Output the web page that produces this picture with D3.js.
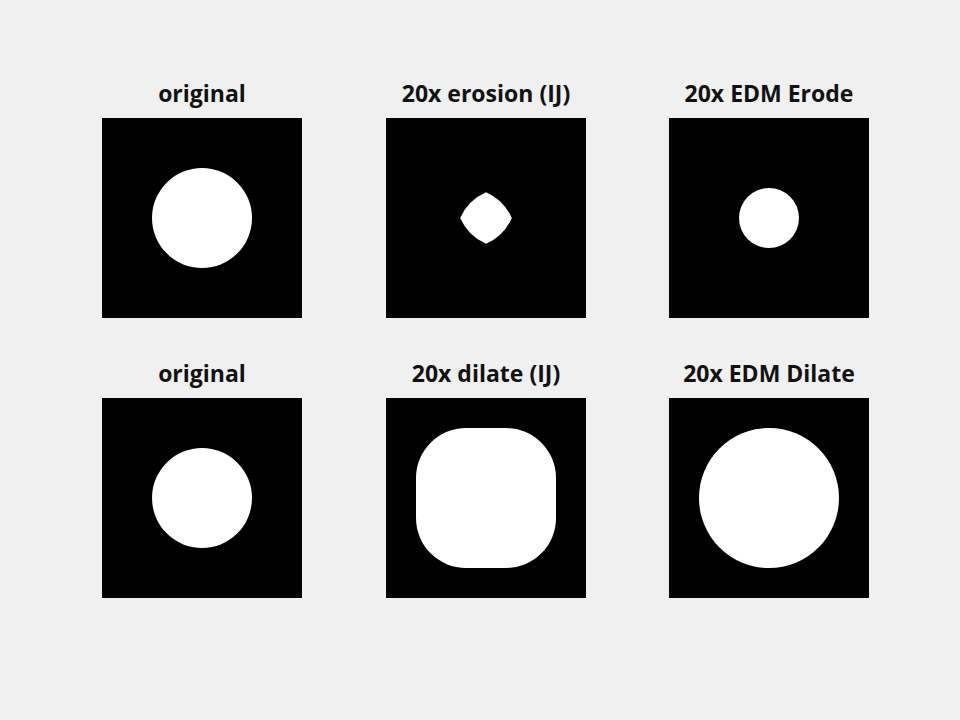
<!DOCTYPE html>
<html>
<head>
<meta charset="utf-8">
<script src="https://cdn.jsdelivr.net/npm/d3@7"></script>
<style>
html,body{margin:0;padding:0;background:#f0f0f0;}
svg{display:block;}
</style>
</head>
<body>
<svg id="fig" width="960" height="720"></svg>
<script>
// ---- data ----
const titles = ["original", "20x erosion (IJ)", "20x EDM Erode", "original", "20x dilate (IJ)", "20x EDM Dilate"];
const operations = ["none", "squareErode", "none", "none", "squareDilate", "none"];
const resultRadius = [50, 50, 30, 50, 50, 70];   // disk radius in image pixels
const squareSteps = [0, 20, 0, 0, 20, 0];        // 3x3 iterations (IJ)
const imageSize = 200;                           // image width/height in pixels

// ---- layout ----
const W = 960, H = 720;
const colX = [102, 386, 669];
const rowY = [118, 398];
const svg = d3.select("#fig");
svg.append("rect").attr("width", W).attr("height", H).attr("fill", "#f0f0f0");

titles.forEach((t, i) => {
  const col = i % 3, row = Math.floor(i / 3);
  const x = d3.scaleLinear().domain([0, imageSize]).range([colX[col], colX[col] + 200]);
  const y = d3.scaleLinear().domain([0, imageSize]).range([rowY[row], rowY[row] + 200]);
  const g = svg.append("g");
  g.append("rect")
    .attr("x", x(0)).attr("y", y(0))
    .attr("width", x(imageSize) - x(0)).attr("height", y(imageSize) - y(0))
    .attr("fill", "#000");
  const cx = imageSize / 2, cy = imageSize / 2;
  const R = resultRadius[i], d = squareSteps[i];
  const sx = (x(1) - x(0));
  if (operations[i] === "none") {
    g.append("circle").attr("cx", x(cx)).attr("cy", y(cy)).attr("r", R * sx).attr("fill", "#fff");
  } else if (operations[i] === "squareDilate") {
    const half = R + d;
    g.append("rect")
      .attr("x", x(cx - half)).attr("y", y(cy - half))
      .attr("width", x(cx + half) - x(cx - half)).attr("height", y(cy + half) - y(cy - half))
      .attr("rx", R * sx).attr("ry", R * sx)
      .attr("fill", "#fff");
  } else if (operations[i] === "squareErode") {
    // intersection of four disks (radius R) centred at the square's corners
    const a = Math.sqrt(R * R - d * d) - d;
    const r = R * sx;
    const pts = [[cx + a, cy], [cx, cy - a], [cx - a, cy], [cx, cy + a]];
    let s = `M${x(pts[0][0])},${y(pts[0][1])}`;
    for (let k = 1; k <= 4; k++) {
      const q = pts[k % 4];
      s += ` A${r},${r} 0 0 0 ${x(q[0])},${y(q[1])}`;
    }
    g.append("path").attr("d", s + "Z").attr("fill", "#fff");
  }
  g.append("text")
    .attr("x", x(imageSize / 2))
    .attr("y", y(0) - 16)
    .attr("text-anchor", "middle")
    .attr("font-family", "'Open Sans', sans-serif")
    .attr("font-weight", "bold")
    .attr("font-size", 23)
    .attr("fill", "#111")
    .text(t);
});
</script>
</body>
</html>
